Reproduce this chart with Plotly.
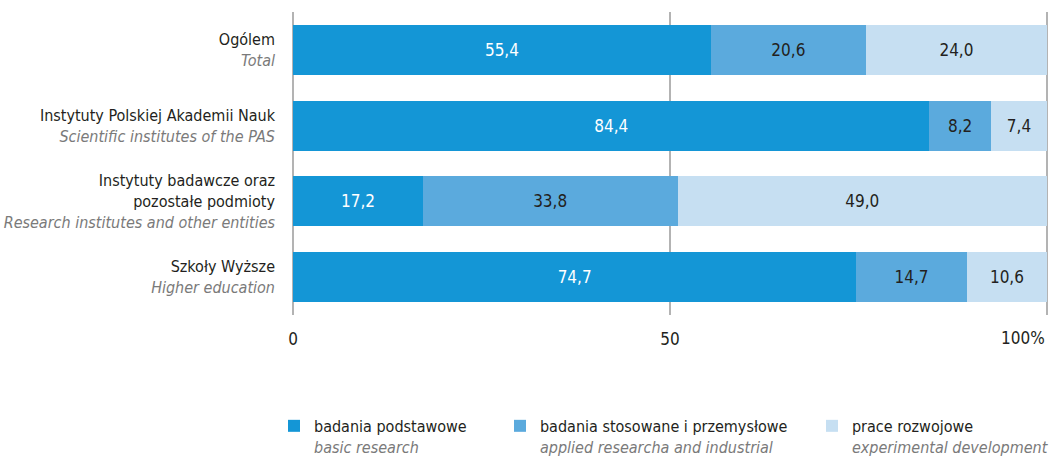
import plotly.graph_objects as go

categories_pl = ["Ogólem", "Instytuty Polskiej Akademii Nauk", "Instytuty badawcze oraz<br>pozostałe podmioty", "Szkoły Wyższe"]
categories_en = ["Total", "Scientific institutes of the PAS", "Research institutes and other entities", "Higher education"]

basic = [55.4, 84.4, 17.2, 74.7]
applied = [20.6, 8.2, 33.8, 14.7]
development = [24.0, 7.4, 49.0, 10.6]

series_pl = ["badania podstawowe", "badania stosowane i przemysłowe", "prace rozwojowe"]
series_en = ["basic research", "applied researcha and industrial", "experimental development"]

x_tickvals = [0, 50, 100]
x_ticktext = ["0", "50", ""]
x_end_tickval = 100
x_end_ticktext = "100%"

FONT = "DejaVu Sans Condensed, Liberation Sans Narrow, sans-serif"
GRAY = "#7a7a7a"
DARK = "#231f20"
FS = 16

cats = [f"{p}<br><i><span style='color:{GRAY}'>{e}</span></i>" for p, e in zip(categories_pl, categories_en)]

colors = ["#1496d6", "#5baadd", "#c6dff2"]
text_colors = ["white", DARK, DARK]
legend_ids = ["legend", "legend2", "legend3"]
legend_x = [-0.0238, 0.2751, 0.6878]

fig = go.Figure()
for vals, pl, en, col, tc, lid in zip([basic, applied, development], series_pl, series_en, colors, text_colors, legend_ids):
    fig.add_trace(go.Bar(
        y=cats, x=vals, orientation="h",
        name=f"{pl}<br><i><span style='color:{GRAY}'>{en}</span></i>",
        marker=dict(color=col, line=dict(width=0)),
        texttemplate="%{x:.1f}", textposition="inside", insidetextanchor="middle",
        textfont=dict(color=tc, size=17, family=FONT),
        width=0.66, legend=lid,
    ))

legend_common = dict(
    orientation="h", xanchor="left", y=-0.31, yanchor="top",
    font=dict(size=FS, family=FONT, color=DARK),
    valign="top", itemwidth=30, bgcolor="rgba(0,0,0,0)",
)

XRANGE = [-0.15, 100.15]

fig.update_layout(
    barmode="stack",
    separators=", ",
    width=1051, height=460,
    margin=dict(l=292, r=3, t=12, b=145, autoexpand=False),
    plot_bgcolor="white", paper_bgcolor="white",
    font=dict(family=FONT, size=FS, color=DARK),
    showlegend=True,
    legend=dict(x=legend_x[0], **legend_common),
    legend2=dict(x=legend_x[1], **legend_common),
    legend3=dict(x=legend_x[2], **legend_common),
)
# end-of-axis label, right-aligned at the 100 tick like the reference
fig.add_annotation(
    x=x_end_tickval, xref="x", y=0, yref="paper", yshift=-23,
    text=x_end_ticktext, showarrow=False, xanchor="right", yanchor="middle",
    font=dict(size=17, family=FONT, color=DARK),
)
fig.update_xaxes(
    range=XRANGE, tickvals=x_tickvals, ticktext=x_ticktext,
    showgrid=True, gridcolor="#b3b3b3", gridwidth=2, zeroline=False,
    showline=False, ticks="", ticklabelstandoff=12,
    tickfont=dict(size=17, family=FONT, color=DARK), fixedrange=True, automargin=False,
)
fig.update_yaxes(
    range=[3.5, -0.5], autorange=False, showgrid=False, zeroline=False, showline=False,
    ticks="", ticklabelstandoff=16, automargin=False,
    tickfont=dict(size=FS, family=FONT, color=DARK),
)

fig.write_html(
    "out.html",
    config={"displayModeBar": False, "staticPlot": True},
    post_script="document.body.style.margin='0';document.body.style.overflow='hidden';",
)
